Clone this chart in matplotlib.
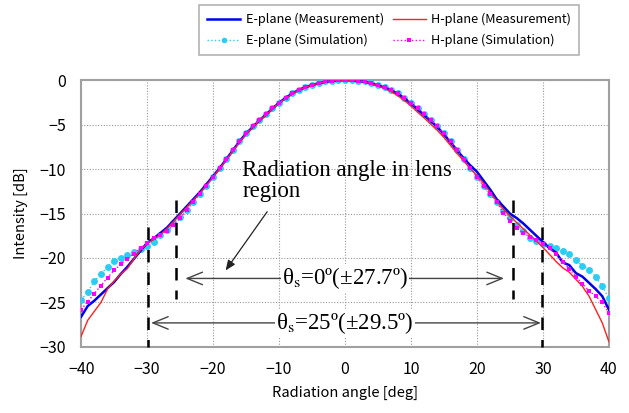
import numpy as np
import matplotlib
matplotlib.use("Agg")
import matplotlib.pyplot as plt

plt.rcParams['font.family'] = ['Noto Sans CJK JP', 'DejaVu Sans']
plt.rcParams['mathtext.fontset'] = 'stix'

# Radiation angle [deg], 1 degree steps
angles = list(range(-40, 41))

# E-plane measurement
e_meas = [-26.6, -25.4, -24.8, -24.1, -23.4, -22.7, -21.8, -21.0, -20.1, -19.2,
          -18.3, -17.8, -17.2, -16.6, -15.8, -15.0, -14.2, -13.4, -12.6, -11.7,
          -10.8, -9.9, -8.9, -7.9, -6.9, -6.0, -5.3, -4.55, -3.9, -3.2,
          -2.55, -2.0, -1.5, -1.1, -0.8, -0.55, -0.35, -0.2, -0.08, -0.02,
          0.0,
          -0.02, -0.08, -0.2, -0.38, -0.6, -0.85, -1.15, -1.55, -2.05, -2.65,
          -3.3, -3.95, -4.6, -5.3, -6.1, -7.0, -7.9, -8.8, -9.6, -10.3,
          -11.3, -12.3, -13.4, -14.2, -15.0, -15.5, -16.1, -16.8, -17.5, -18.2,
          -18.9, -19.4, -20.5, -20.8, -21.7, -22.1, -22.8, -23.5, -24.3, -25.8]

# H-plane measurement
h_meas = [-28.8, -27.0, -26.0, -25.0, -23.5, -22.6, -21.8, -21.2, -20.1, -19.1,
          -18.4, -17.9, -17.4, -16.7, -15.9, -15.1, -14.3, -13.5, -12.7, -11.8,
          -10.9, -10.0, -9.0, -8.0, -7.0, -6.1, -5.35, -4.6, -3.95, -3.25,
          -2.6, -2.05, -1.55, -1.15, -0.82, -0.56, -0.36, -0.2, -0.08, -0.02,
          0.0,
          -0.03, -0.1, -0.22, -0.42, -0.66, -0.95, -1.3, -1.75, -2.3, -2.9,
          -3.6, -4.25, -4.95, -5.65, -6.45, -7.35, -8.25, -9.1, -9.95, -10.7,
          -11.6, -12.6, -13.6, -14.5, -15.3, -16.0, -16.7, -17.4, -18.1, -18.8,
          -19.6, -20.4, -21.1, -21.6, -22.4, -23.2, -24.3, -25.8, -27.3, -29.4]

# E-plane simulation
e_sim = [-24.7, -23.8, -22.6, -21.8, -21.0, -20.3, -20.0, -19.7, -19.3, -19.0,
         -18.6, -18.2, -17.4, -16.8, -16.1, -15.4, -14.6, -13.7, -12.8, -11.9,
         -10.9, -9.9, -8.9, -7.9, -6.9, -6.0, -5.2, -4.5, -3.8, -3.15,
         -2.55, -2.0, -1.5, -1.1, -0.75, -0.5, -0.3, -0.15, -0.06, -0.01,
         0.0,
         -0.01, -0.06, -0.15, -0.3, -0.5, -0.75, -1.1, -1.5, -2.0, -2.55,
         -3.15, -3.8, -4.5, -5.2, -6.0, -6.9, -7.9, -8.9, -9.9, -10.9,
         -11.9, -12.8, -13.7, -14.7, -15.5, -16.3, -17.0, -17.7, -18.1, -18.4,
         -18.7, -18.9, -19.2, -19.6, -20.2, -20.9, -21.3, -22.1, -23.2, -24.5]

# H-plane simulation
h_sim = [-25.8, -24.9, -24.0, -23.1, -22.2, -21.4, -20.7, -20.1, -19.5, -18.9,
         -18.3, -17.8, -17.4, -17.0, -16.3, -15.5, -14.6, -13.7, -12.8, -11.9,
         -10.9, -9.9, -8.9, -7.9, -6.9, -6.0, -5.2, -4.5, -3.8, -3.15,
         -2.55, -2.0, -1.5, -1.1, -0.75, -0.5, -0.3, -0.15, -0.06, -0.01,
         0.0,
         -0.01, -0.06, -0.15, -0.3, -0.5, -0.75, -1.1, -1.5, -2.0, -2.55,
         -3.15, -3.8, -4.5, -5.2, -6.0, -6.9, -7.9, -8.9, -9.9, -10.9,
         -11.9, -12.8, -13.7, -14.9, -15.8, -16.6, -17.2, -17.6, -18.0, -18.4,
         -18.9, -19.6, -20.4, -21.2, -22.1, -22.9, -23.7, -24.3, -25.0, -26.2]

legend_labels = ['E-plane (Measurement)', 'H-plane (Measurement)',
                 'E-plane (Simulation)', 'H-plane (Simulation)']

# annotation values
inner_lines = [-25.6, 25.4]
outer_lines = [-29.8, 29.8]
inner_label = 'θ$_{\\rm s}$=0º(±27.7º)'
outer_label = 'θ$_{\\rm s}$=25º(±29.5º)'

fig = plt.figure(figsize=(6.29, 4.13), dpi=100)
ax = fig.add_axes([0.129, 0.160, 0.839, 0.646])

l1, = ax.plot(angles, e_meas, color='#0000ee', lw=1.8, zorder=4)
l2, = ax.plot(angles, h_meas, color='#ff2020', lw=1.0, zorder=5)
l3, = ax.plot(angles, e_sim, color='#2ccdf5', lw=1.0, ls=':', marker='o',
              markersize=5, markeredgewidth=0, zorder=3)
l4, = ax.plot(angles, h_sim, color='#ff00ff', lw=1.0, ls=':', marker='s',
              markersize=3, markeredgewidth=0, zorder=6)

ax.set_xlim(-40, 40)
ax.set_ylim(-30, 0)
ax.set_xticks(range(-40, 41, 10))
ax.set_yticks(range(-30, 1, 5))
ax.tick_params(length=0, labelsize=11.5)
ax.tick_params(axis='x', pad=10)
ax.tick_params(axis='y', pad=11)
ax.grid(True, ls=(0, (1, 1.5)), color='#9a9a9a', lw=0.8)
for s in ax.spines.values():
    s.set_color('#a0a0a0')
    s.set_linewidth(1.5)
ax.set_xlabel('Radiation angle [deg]', fontsize=10.5, labelpad=6)
ax.set_ylabel('Intensity [dB]', fontsize=10.5, labelpad=8)

# dashed markers of lens region
for x in inner_lines:
    ax.plot([x, x], [-13.5, -24.6], color='black', lw=1.8, ls=(0, (5, 4)), zorder=7)
for x in outer_lines:
    ax.plot([x, x], [-16.5, -30], color='black', lw=1.8, ls=(0, (5, 4)), zorder=7,
            clip_on=False)

arrow_style = dict(arrowstyle='<->,head_length=1.1,head_width=0.45',
                   color='#444444', lw=1.0, shrinkA=0, shrinkB=0)
ax.annotate('', xy=(-24.2, -22.3), xytext=(24.1, -22.3), arrowprops=arrow_style, zorder=7)
ax.annotate('', xy=(-29.4, -27.3), xytext=(29.7, -27.3), arrowprops=arrow_style, zorder=7)
serif = dict(family='Liberation Serif', fontsize=16.5, ha='center', va='center', zorder=8,
             bbox=dict(facecolor='white', edgecolor='none', pad=1))
ax.text(0, -22.3, inner_label, **serif)
ax.text(0, -27.3, outer_label, **serif)

ax.text(-15.6, -9.0, 'Radiation angle in lens\nregion', family='Liberation Serif',
        fontsize=16.5, ha='left', va='top', linespacing=1.0, zorder=8)
ax.annotate('', xy=(-18.1, -21.4), xytext=(-11.8, -14.8),
            arrowprops=dict(arrowstyle='-|>,head_length=0.6,head_width=0.25',
                            color='#222222', lw=0.9, shrinkA=0, shrinkB=0))

# column-wise fill: measurement on the first row, simulation on the second
leg = fig.legend([l1, l3, l2, l4],
                 [legend_labels[0], legend_labels[2], legend_labels[1], legend_labels[3]],
                 ncol=2, loc='center',
                 bbox_to_anchor=(0.6185, 0.9275), fontsize=9.2, frameon=True,
                 fancybox=False, edgecolor='#a0a0a0', handlelength=2.6,
                 columnspacing=0.7, handletextpad=0.4, labelspacing=0.6,
                 borderpad=0.65, markerscale=0.8)
leg.get_frame().set_linewidth(1.2)

fig.savefig('out.png', dpi=100)
